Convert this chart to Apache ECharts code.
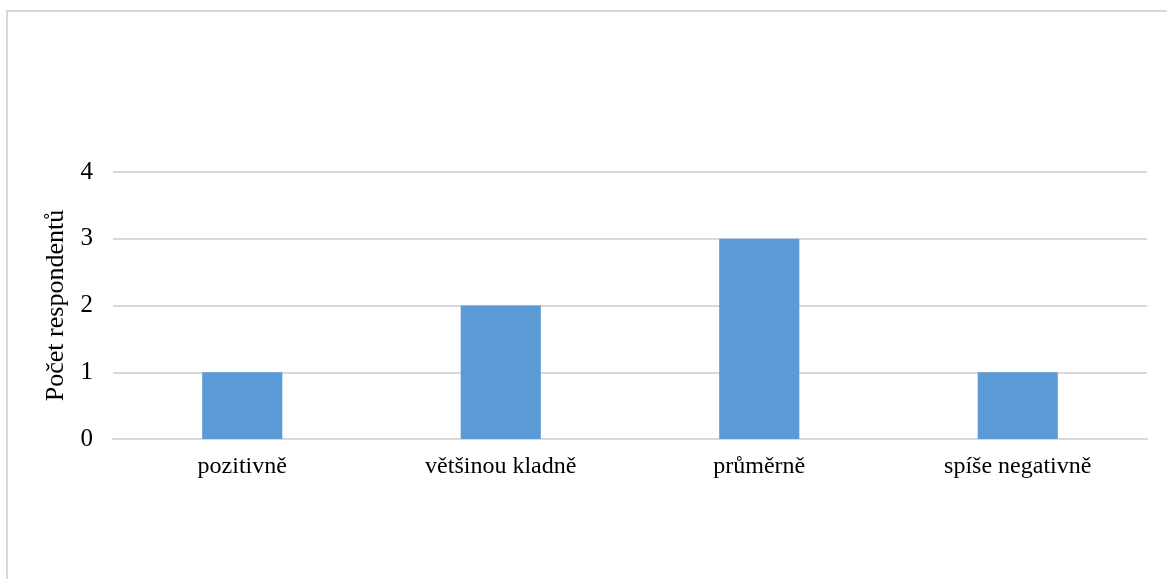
<!DOCTYPE html>
<html>
<head>
    <meta charset="UTF-8">
    <title>Počet respondentů</title>
    <script src="https://cdn.jsdelivr.net/npm/echarts@6/dist/echarts.min.js"></script>
</head>
<body style="margin:0;background:#fff;">
    <div id="chart" style="width:1167px;height:579px;"></div>
    <script>
        // data
        var categories = ['pozitivně', 'většinou kladně', 'průměrně', 'spíše negativně'];
        var counts = [1, 2, 3, 1];
        var yTicks = [0, 1, 2, 3, 4];

        var chart = echarts.init(document.getElementById('chart'), null, {renderer: 'canvas'});
        var font = '"Liberation Serif", "Times New Roman", serif';

        var option = {
            animation: false,
            textStyle: {fontFamily: font},
            // light frame around the chart area
            graphic: [{
                type: 'rect',
                shape: {x: 7, y: 11, width: 1200, height: 620},
                style: {fill: 'none', stroke: '#d9d9d9', lineWidth: 2}
            }],
            grid: {left: 113, right: 20, top: 172, bottom: 140},
            xAxis: {
                type: 'category',
                data: categories,
                axisLine: {lineStyle: {color: '#d9d9d9', width: 2}},
                axisTick: {show: false},
                axisLabel: {color: '#000', fontSize: 24, fontFamily: font, margin: 16}
            },
            yAxis: {
                type: 'value',
                min: yTicks[0],
                max: yTicks[yTicks.length - 1],
                interval: 1,
                name: 'Počet respondentů',
                nameLocation: 'middle',
                nameGap: 44,
                nameTextStyle: {color: '#000', fontSize: 26, fontFamily: font},
                axisLine: {show: false},
                axisTick: {show: false},
                axisLabel: {color: '#000', fontSize: 25, fontFamily: font, margin: 20},
                splitLine: {lineStyle: {color: '#d9d9d9', width: 2}}
            },
            series: [{
                type: 'bar',
                data: counts,
                barWidth: '31%',
                itemStyle: {color: '#5b9bd5'}
            }]
        };
        chart.setOption(option);
    </script>
</body>
</html>
